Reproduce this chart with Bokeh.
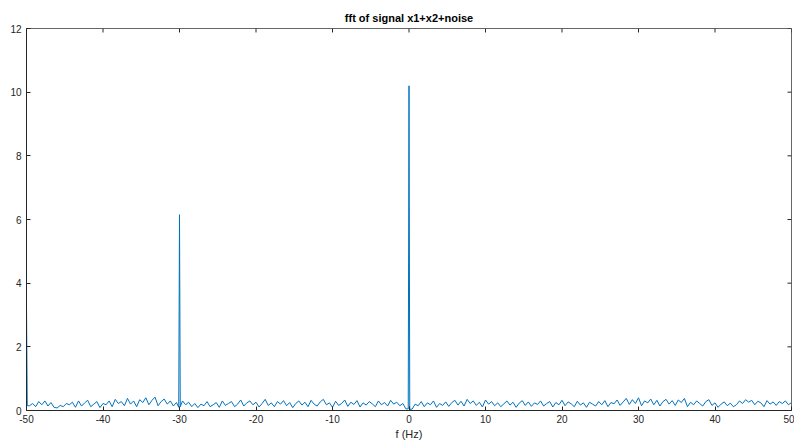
import numpy as np
from bokeh.plotting import figure
from bokeh.models import FixedTicker, Range1d
from bokeh.embed import file_html
from bokeh.resources import INLINE

# Frequency grid of the two-sided spectrum
f_start = -50.0
f_step = 0.4

# |FFT| magnitude for each 0.4 Hz bin (−50 Hz … 50 Hz)
mag_m50_to_m40 = [3.25, 0.15, 0.22, 0.12, 0.28, 0.18, 0.30, 0.14, 0.25, 0.10,
                  0.08, 0.16, 0.12, 0.22, 0.18, 0.26, 0.10, 0.30, 0.14, 0.24,
                  0.32, 0.12, 0.20, 0.28, 0.09, 0.22]
mag_m40_to_m30 = [0.18, 0.30, 0.12, 0.35, 0.22, 0.28, 0.15, 0.38, 0.20, 0.30,
                  0.12, 0.34, 0.25, 0.40, 0.18, 0.32, 0.42, 0.15, 0.28, 0.36,
                  0.20, 0.30, 0.14, 0.25, 6.15]
mag_m30_to_0 = [0.30, 0.18, 0.26, 0.12, 0.22, 0.09, 0.20, 0.15, 0.28, 0.12,
                0.18, 0.25, 0.10, 0.30, 0.16, 0.22, 0.28, 0.12, 0.20, 0.33,
                0.14, 0.24, 0.30, 0.18, 0.26, 0.11, 0.22, 0.35, 0.16, 0.24,
                0.12, 0.28, 0.20, 0.31, 0.15, 0.25, 0.09, 0.22, 0.30, 0.17,
                0.26, 0.12, 0.32, 0.20, 0.14, 0.27, 0.35, 0.18, 0.24, 0.10,
                0.29, 0.16, 0.22, 0.33, 0.13, 0.26, 0.19, 0.31, 0.11, 0.24,
                0.17, 0.28, 0.21, 0.12, 0.30, 0.18, 0.25, 0.14, 0.32, 0.20,
                0.26, 0.15, 0.22, 0.05, 10.2]
mag_0_to_50 = [0.04, 0.20, 0.15, 0.28, 0.12, 0.24, 0.18, 0.30, 0.10, 0.22,
               0.16, 0.27, 0.13, 0.25, 0.32, 0.17, 0.29, 0.14, 0.35, 0.22,
               0.30, 0.16, 0.26, 0.11, 0.33, 0.20, 0.28, 0.15, 0.24, 0.12,
               0.21, 0.30, 0.17, 0.26, 0.10, 0.23, 0.31, 0.16, 0.27, 0.13,
               0.24, 0.19, 0.30, 0.14, 0.22, 0.28, 0.11, 0.25, 0.18, 0.32,
               0.15, 0.27, 0.21, 0.12, 0.29, 0.17, 0.24, 0.10, 0.26, 0.20,
               0.14, 0.28, 0.18, 0.31, 0.12, 0.25, 0.21, 0.33, 0.16, 0.27,
               0.38, 0.19, 0.34, 0.22, 0.40, 0.15, 0.30, 0.24, 0.36, 0.18,
               0.32, 0.14, 0.28, 0.35, 0.20, 0.31, 0.16, 0.33, 0.25, 0.38,
               0.12, 0.26, 0.18, 0.30, 0.22, 0.14, 0.28, 0.34, 0.16, 0.24,
               0.10, 0.20, 0.27, 0.15, 0.23, 0.12, 0.18, 0.30, 0.22, 0.34,
               0.26, 0.32, 0.18, 0.29, 0.24, 0.12, 0.31, 0.20, 0.27, 0.16,
               0.28, 0.22, 0.30, 0.18, 0.25]

# Fine-resolution bins right beside the spectral lines (keeps the spikes narrow)
side_freq = [-49.9, -30.1, -29.9, -0.1, 0.1]
side_mag = [0.15, 0.10, 0.12, 0.05, 0.04]

x_ticks = [-50, -40, -30, -20, -10, 0, 10, 20, 30, 40, 50]
y_ticks = [0, 2, 4, 6, 8, 10, 12]

grid_mag = mag_m50_to_m40 + mag_m40_to_m30 + mag_m30_to_0 + mag_0_to_50
grid_freq = f_start + f_step * np.arange(len(grid_mag))
freq = np.concatenate([grid_freq, side_freq])
magnitude = np.concatenate([grid_mag, side_mag])
order = np.argsort(freq)
freq, magnitude = freq[order], magnitude[order]

AX_COLOR = "#262626"
FONT = "Liberation Sans"

p = figure(width=794, height=442, output_backend="svg", toolbar_location=None,
           x_range=Range1d(-50, 50), y_range=Range1d(0, 12),
           min_border_left=26, min_border_right=3, min_border_top=28,
           min_border_bottom=30, background_fill_color="white",
           border_fill_color="white")

p.title.text = "fft of signal x1+x2+noise"
p.title.align = "center"
p.title.text_font = FONT
p.title.text_font_size = "11px"
p.title.text_font_style = "bold"
p.title.text_color = "#000000"
p.title.offset = 0

p.line(freq, magnitude, line_color="#0072BD", line_width=1)

p.grid.visible = False
p.outline_line_color = AX_COLOR
p.outline_line_alpha = 0.7

for ax in (p.xaxis[0], p.yaxis[0]):
    ax.axis_line_color = AX_COLOR
    ax.major_tick_line_color = AX_COLOR
    ax.major_tick_in = 4
    ax.major_tick_out = 0
    ax.minor_tick_line_color = None
    ax.major_label_text_font = FONT
    ax.major_label_text_font_size = "10px"
    ax.major_label_text_color = AX_COLOR

p.xaxis[0].ticker = FixedTicker(ticks=x_ticks)
p.yaxis[0].ticker = FixedTicker(ticks=y_ticks)
# plain hyphen-minus for negative tick labels
p.xaxis[0].major_label_overrides = {t: str(t) for t in x_ticks}
p.xaxis[0].major_label_standoff = 4
p.yaxis[0].major_label_standoff = 5
p.xaxis[0].axis_label = "f (Hz)"
p.xaxis[0].axis_label_text_font = FONT
p.xaxis[0].axis_label_text_font_size = "11px"
p.xaxis[0].axis_label_text_font_style = "normal"
p.xaxis[0].axis_label_text_color = AX_COLOR
p.xaxis[0].axis_label_standoff = 2

# Mirrored tick marks on the top and right edges of the box
p.ray(x=x_ticks, y=y_ticks[-1], length=4, length_units="screen",
      angle=-np.pi / 2, line_color=AX_COLOR, line_width=1)
p.ray(x=x_ticks[-1], y=y_ticks, length=4, length_units="screen",
      angle=np.pi, line_color=AX_COLOR, line_width=1)

open("out.html", "w").write(file_html(p, INLINE))
